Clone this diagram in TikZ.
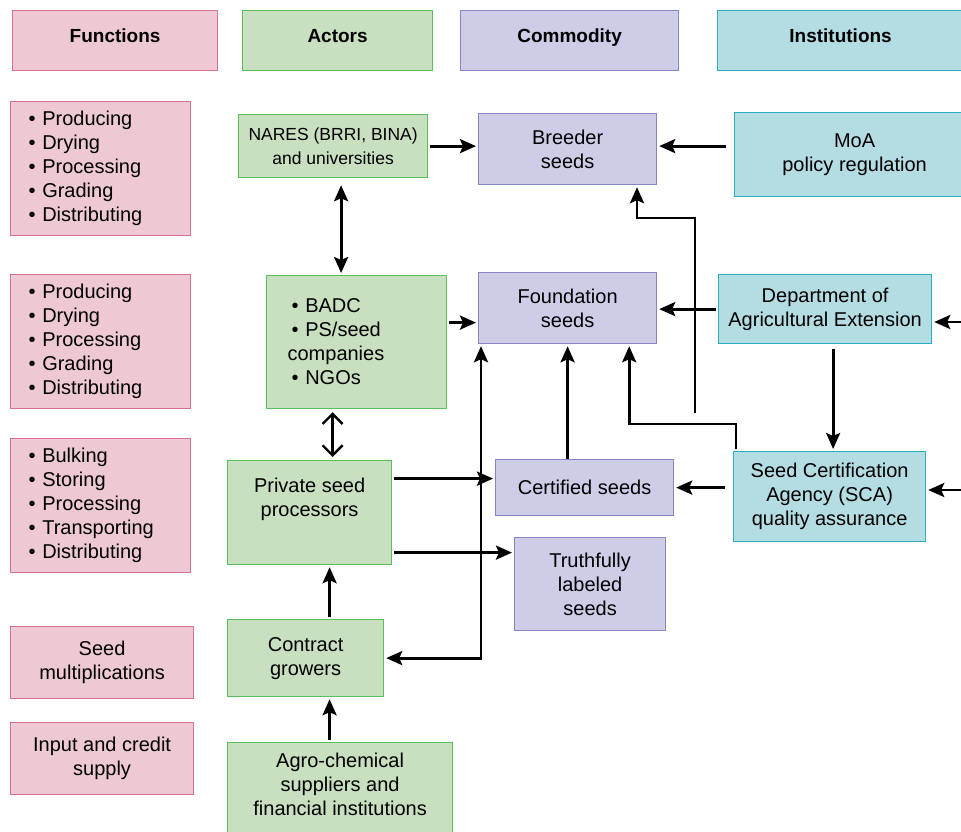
\documentclass[tikz,border=0pt]{standalone}
\usepackage{fontspec}
\setmainfont{Liberation Sans}
\usepackage{xcolor}
\usepackage{tikz}
\usetikzlibrary{shapes,arrows.meta,positioning}

\definecolor{funcfill}{HTML}{EEC9D3}
\definecolor{funcline}{HTML}{D8708F}
\definecolor{actfill}{HTML}{C8E0C0}
\definecolor{actline}{HTML}{5BBF5B}
\definecolor{comfill}{HTML}{CECDE8}
\definecolor{comline}{HTML}{8585C6}
\definecolor{instfill}{HTML}{B4DCE3}
\definecolor{instline}{HTML}{2AAFC1}

\begin{document}
\begin{tikzpicture}[x=1pt, y=-1pt, font=\fontsize{20}{24}\selectfont]
    % Define styles
    \tikzstyle{box} = [rectangle, draw, line width=1.2pt, anchor=north west, inner sep=0pt, align=center]
    \tikzstyle{head} = [box, font=\fontsize{19}{24}\selectfont\bfseries, minimum height=60, text depth=9pt]
    \tikzstyle{func} = [box, fill=funcfill, draw=funcline]
    \tikzstyle{actor} = [box, fill=actfill, draw=actline]
    \tikzstyle{commodity} = [box, fill=comfill, draw=comline]
    \tikzstyle{inst} = [box, fill=instfill, draw=instline]
    \tikzstyle{bullets} = [align=left, inner xsep=18pt, text width=144pt]
    \tikzstyle{arrow} = [line width=2.8pt, -{Stealth[length=16pt,width=14pt,inset=3pt]}, shorten <=2pt, shorten >=2pt]
    \tikzstyle{dblarrow} = [arrow, {Stealth[length=16pt,width=14pt,inset=3pt]}-{Stealth[length=16pt,width=14pt,inset=3pt]}]
    \tikzstyle{openarrow} = [line width=2.4pt, {Straight Barb[length=10pt,width=20pt]}-{Straight Barb[length=10pt,width=20pt]}]

    \useasboundingbox (0,0) rectangle (961,831);

    % Headers
    \node [head, fill=funcfill, draw=funcline, minimum width=205] (hfunc) at (12,10) {Functions};
    \node [head, fill=actfill, draw=actline, minimum width=190] (hactor) at (242,10) {Actors};
    \node [head, fill=comfill, draw=comline, minimum width=218] (hcom) at (460,10) {Commodity};
    \node [head, fill=instfill, draw=instline, minimum width=246] (hinst) at (717,10) {Institutions};

    % Functions
    \node [func, bullets, minimum width=180, minimum height=134] (func1) at (10,101)
        {\textbullet\ Producing\\\textbullet\ Drying\\\textbullet\ Processing\\\textbullet\ Grading\\\textbullet\ Distributing};
    \node [func, bullets, minimum width=180, minimum height=134] (func2) at (10,274)
        {\textbullet\ Producing\\\textbullet\ Drying\\\textbullet\ Processing\\\textbullet\ Grading\\\textbullet\ Distributing};
    \node [func, bullets, minimum width=180, minimum height=134] (func3) at (10,438)
        {\textbullet\ Bulking\\\textbullet\ Storing\\\textbullet\ Processing\\\textbullet\ Transporting\\\textbullet\ Distributing};
    \node [func, minimum width=183, minimum height=72] (func4) at (10,626) {Seed\\multiplications};
    \node [func, minimum width=183, minimum height=72] (func5) at (10,722) {Input and credit\\supply};

    % Actors
    \node [actor, font=\fontsize{17.5}{24}\selectfont, minimum width=189, minimum height=63] (nares) at (238,114)
        {NARES (BRRI, BINA)\\and universities};
    \node [actor, align=left, inner xsep=21pt, text width=138pt, minimum height=133] (badc) at (266,275)
        {\hspace{4pt}\textbullet\ BADC\\\hspace{4pt}\textbullet\ PS/seed\\companies\\\hspace{4pt}\textbullet\ NGOs};
    \node [actor, minimum width=164, minimum height=104] (private) at (227,460) {Private seed\\processors\\\strut};
    \node [actor, minimum width=156, minimum height=77] (contract) at (227,619) {Contract\\growers};
    \node [actor, minimum width=225, minimum height=114] (agro) at (227,742)
        {Agro-chemical\\suppliers and\\financial institutions\\\strut};

    % Commodity
    \node [commodity, minimum width=178, minimum height=71] (breeder) at (478,113) {Breeder\\seeds};
    \node [commodity, minimum width=178, minimum height=71] (foundation) at (478,272) {Foundation\\seeds};
    \node [commodity, minimum width=178, minimum height=56] (certified) at (495,459) {Certified seeds};
    \node [commodity, minimum width=151, minimum height=93] (truthful) at (514,537) {Truthfully\\labeled\\seeds};

    % Institutions
    \node [inst, minimum width=240, minimum height=84] (moa) at (734,112) {MoA\\policy regulation};
    \node [inst, minimum width=213, minimum height=69] (dae) at (718,274) {Department of\\Agricultural Extension};
    \node [inst, minimum width=192, minimum height=90] (sca) at (733,451) {Seed Certification\\Agency (SCA)\\quality assurance};

    % Free ends
    \coordinate (dfree) at (695,415);
    \coordinate (bend) at (637,218);
    \coordinate (rin1) at (965,322);
    \coordinate (rin2) at (965,490);

    % Arrows
    \draw [arrow] (nares.east) -- (nares.east -| breeder.west);
    \draw [arrow] ([xshift=-6pt]moa.west |- nares.east) -- (nares.east -| breeder.east);
    \draw [dblarrow, shorten <=7pt] ([xshift=8pt]nares.south) -- ([xshift=8pt]nares.south |- badc.north);
    \draw [openarrow, shorten <=3pt, shorten >=3pt] ([xshift=23pt]private.north) -- ([xshift=23pt]private.north |- badc.south);
    \draw [arrow] ([yshift=19.5pt]badc.east) -- ([yshift=19.5pt]badc.east -| foundation.west);
    \draw [arrow] (dae.west) -- (dae.west -| foundation.east);
    \draw [arrow] (dfree) |- (bend) -- (bend |- breeder.south);
    \draw [arrow] ([xshift=3pt]sca.north west) -- ++(0,-27) -| ([xshift=-28pt]foundation.south east);
    \draw [arrow, shorten <=5pt] ([xshift=8pt]dae.south) -- ([xshift=8pt]dae.south |- sca.north);
    \draw [arrow] (rin1) -- (rin1 -| dae.east);
    \draw [arrow] (rin2) -- (rin2 -| sca.east);
    \draw [arrow, shorten <=3pt] ([xshift=-5pt]sca.west |- certified.east) -- (certified.east);
    \draw [arrow, shorten <=0pt] (certified.north -| foundation.south) -- (foundation.south);
    \draw [arrow] ([yshift=34pt]private.east) -- ([yshift=34pt]private.east -| certified.west);
    \draw [arrow] ([yshift=-40pt]private.east) -- ([yshift=-40pt]private.east -| truthful.west);
    \draw [dblarrow] ([xshift=3pt]foundation.south west) |- (contract.east);
    \draw [arrow] ([xshift=24pt]contract.north) -- ([xshift=24pt]contract.north |- private.south);
    \draw [arrow] ([xshift=24pt]contract.south |- agro.north) -- ([xshift=24pt]contract.south);
\end{tikzpicture}
\end{document}
